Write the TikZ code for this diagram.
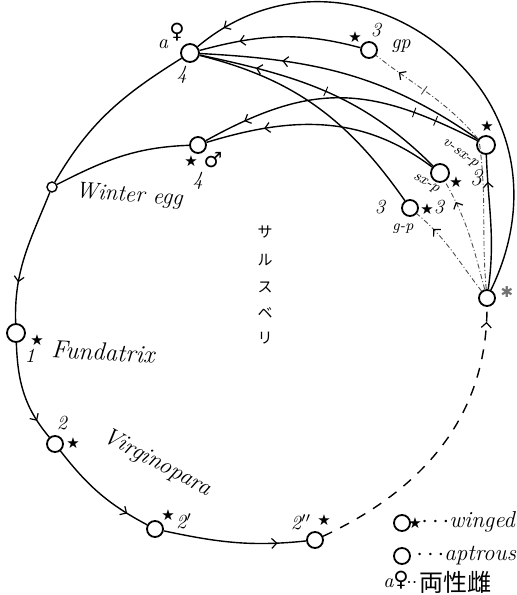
\documentclass[tikz,border=0pt]{standalone}
\usepackage{fontspec}
\newfontfamily\symf{DejaVu Sans}
\newfontfamily\jpf{Noto Sans CJK JP}
\usetikzlibrary{arrows.meta,decorations.markings}
\tikzset{
  ring/.style={circle,draw,line width=0.9pt,minimum size=8pt,inner sep=0pt},
  bigring/.style={ring,minimum size=9pt},
  lab/.style={inner sep=0pt,font=\fontsize{11.5}{11.5}\selectfont\itshape},
  num/.style={inner sep=0pt,font=\fontsize{10}{10}\selectfont\itshape},
  tiny/.style={inner sep=0pt,font=\fontsize{7.5}{7.5}\selectfont\itshape},
  st/.style={inner sep=0pt,font=\symf\fontsize{7.5}{7.5}\selectfont},
  sex/.style={inner sep=0pt,font=\symf\fontsize{10.5}{10.5}\selectfont},
  jp/.style={inner sep=0pt,font=\jpf\fontsize{7.5}{7.5}\selectfont},
  ln/.style={line width=0.7pt},
  dd/.style={line width=0.45pt,black!70,dash pattern=on 2.5pt off 1.2pt on 0.5pt off 1.2pt},
  arr/.style={postaction={decorate,decoration={markings,mark=at position #1 with {\arrow[solid,black,line width=0.6pt]{Straight Barb[length=2.5pt,width=5pt]}}}}},
  tk/.style={postaction={decorate,decoration={markings,mark=at position #1 with {\draw[solid,line width=0.45pt] (0,-2.5pt)--(0,2.5pt);}}}},
}
\begin{document}
\begin{tikzpicture}[x=0.5pt,y=0.5pt]
\useasboundingbox (0,0) rectangle (516,-595);
% nodes
\node[bigring] (A) at (190,-53) {};
\node[ring] (G) at (369,-50) {};
\node[bigring] (V) at (486,-145) {};
\node[bigring] (S) at (440,-173) {};
\node[ring] (P) at (410,-208) {};
\node[ring] (M) at (198,-145) {};
\node[ring,minimum size=5pt,line width=0.7pt] (W) at (52,-187) {};
\node[bigring] (F) at (16,-333) {};
\node[ring] (V2) at (55,-444) {};
\node[ring] (V2a) at (155,-529) {};
\node[ring] (V2b) at (315,-540) {};
\node[ring] (X) at (487,-298) {};
\coordinate (gv) at (479,-140);
\coordinate (om) at (442,-48);
% connectors
\draw[ln,arr=0.94] (X) to[out=64,in=-39] (om) to[out=141,in=40] (A);
\draw[ln,arr=0.75] (G) to[out=165,in=15] (A);
\draw[ln,arr=0.72] (V) to[out=145,in=-3] (A);
\draw[ln,arr=0.78,tk=0.5] (S) to[out=135,in=-12] (A);
\draw[ln] (P) to[out=125,in=-14] (A);
\draw[ln,arr=0.85,tk=0.16,tk=0.24] (V) to[out=153,in=29,looseness=1.15] (M);
\draw[ln,arr=0.75] (S) to[out=143,in=17] (M);
\draw[ln] (M) to[out=182,in=27] (W);
\draw[ln] (A) to[out=212,in=60] (W);
\draw[ln,arr=0.7] (W) to[out=248,in=92] (F);
\draw[ln,arr=0.8] (F) to[out=272,in=130] (V2);
\draw[ln,arr=0.8] (V2) to[out=308,in=152] (V2a);
\draw[ln,arr=0.8] (V2a) to[out=-12,in=186] (V2b);
\draw[ln,dash pattern=on 5pt off 4.5pt,arr=0.95] (V2b) to[out=25,in=-90] (X);
\draw[ln,arr=0.8] (X) to[out=82,in=-88] (V);
\draw[dd,arr=0.8] (X) to[out=105,in=-60] (S);
\draw[dd,arr=0.78] (X) to[out=128,in=-40] (P);
\draw[dd,arr=0.9,tk=0.79] (X) to[out=95,in=-82] (gv) to[out=130,in=-38] (G);
% labels
\node[num] (la) at (163,-44) {a};
\node[sex] (lfa) at (177,-32) {♀};
\node[num] (l4a) at (182,-75) {4};
\node[st] (sg) at (355,-37) {★};
\node[num] (l3g) at (376,-30) {3};
\node[num] (lgp) at (401,-46) {gp};
\node[st] (sv) at (487,-126) {★};
\node[tiny,rotate=-35] (lv) at (460,-154) {v-sx-p};
\node[tiny,rotate=-30] (ls) at (426,-184) {sx-p};
\node[st] (ss) at (456,-182) {★};
\node[num,font=\fontsize{12}{12}\selectfont\itshape] (l3s) at (476,-178) {3};
\node[num] (l3p) at (380,-207) {3};
\node[st] (sp) at (427,-209) {★};
\node[num] (l3pr) at (439,-207) {3};
\node[tiny] (lgp2) at (403,-229) {g-p};
\node[st] (sm) at (191,-161) {★};
\node[sex] (lma) at (213,-160) {♂};
\node[num] (l4m) at (198,-181) {4};
\node[lab,rotate=-4] (lw) at (129,-196) {Winter egg};
\node[st] (sf) at (37,-340) {★};
\node[num] (l1) at (30,-356) {1};
\node[lab,font=\fontsize{12.5}{12.5}\selectfont\itshape,rotate=-3] (lf) at (103,-352) {Fundatrix};
\node[num] (l2) at (62,-423) {2};
\node[st] (s2) at (73,-443) {★};
\node[lab,font=\fontsize{12}{12}\selectfont\itshape,rotate=-28] (lvp) at (157,-463) {Virginopara};
\node[st] (s2a) at (168,-515) {★};
\node[num] (l2a) at (184,-521) {2$'$};
\node[num] (l2b) at (301,-522) {2$''$};
\node[st] (s2b) at (324,-520) {★};
\node[inner sep=0pt,font=\symf\fontsize{7.5}{7.5}\selectfont,black!55] (sx) at (507,-292) {✱};
% japanese
\node[jp] (j1) at (265,-232) {サ};
\node[jp] (j2) at (265,-260) {ル};
\node[jp] (j3) at (265,-287) {ス};
\node[jp] (j4) at (265,-313) {ベ};
\node[jp] (j5) at (265,-338) {リ};
% legend
\node[ring] (L1) at (402,-523) {};
\node[st] (L1s) at (415,-523) {★};
\node[lab,anchor=west] (L1t) at (421,-522) {$\cdots$winged};
\node[ring] (L2) at (402,-556) {};
\node[lab,anchor=west] (L2t) at (416,-556) {$\cdots$aptrous};
\node[num,anchor=west] (L3a) at (383,-583) {a};
\node[sex] (L3f) at (401,-580) {♀};
\node[num] (L3d) at (412,-583) {$\cdot\cdot$};
\node[jp,anchor=west,font=\jpf\fontsize{12}{12}\selectfont] (L3j) at (419,-582) {両性雌};
\end{tikzpicture}
\end{document}
